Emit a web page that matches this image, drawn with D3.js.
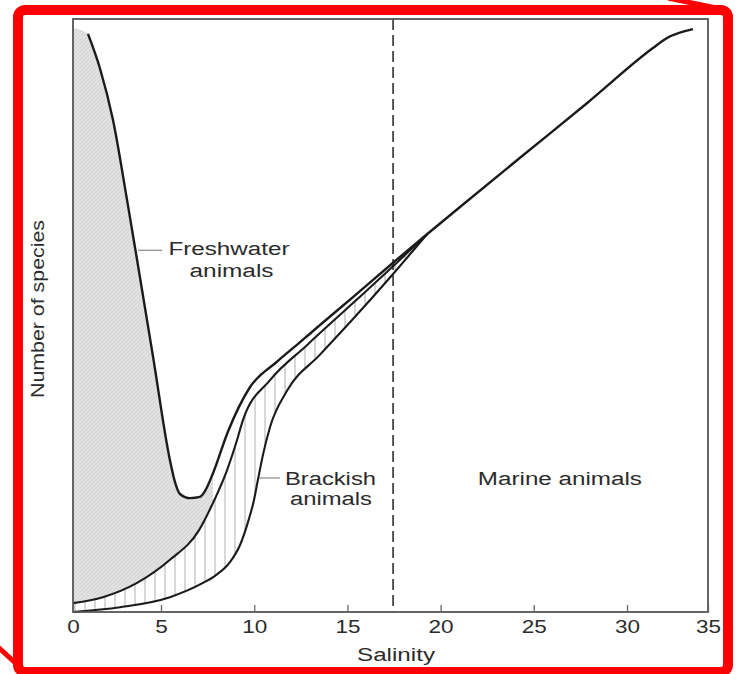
<!DOCTYPE html>
<html>
<head>
<meta charset="utf-8">
<script src="https://cdn.jsdelivr.net/npm/d3@7"></script>
<style>
body { margin: 0; background: #fff; }
text { font-family: "Liberation Sans", Arial, sans-serif; fill: #2b2b2b; }
</style>
</head>
<body>
<div class="salinity-chart"></div>
<script>
// x = salinity, y = number of species (relative, 0-100)
const salinityTicks = [0, 5, 10, 15, 20, 25, 30, 35];

// freshwater curve, carries on as the marine curve past ~20
const freshX = [0.85, 1.53, 2.27, 3.07, 3.64, 4.55, 5.48, 5.75, 6.02, 6.56, 7.09, 7.36, 7.79, 8.59, 9.77, 11.22, 12.46, 13.53, 15.3, 17.45, 19.27, 21.04, 24.26, 27.85, 31.6, 32.47, 34.07];
const freshY = [97.5, 91.7, 83.0, 69.5, 59.4, 43.0, 25.6, 21.9, 19.9, 19.2, 19.4, 20.4, 23.4, 30.4, 37.9, 42.2, 45.5, 48.4, 53.1, 58.9, 63.7, 68.3, 76.6, 85.8, 95.1, 96.8, 98.3];
const freshFillTop = [0, 98.5];

// upper edge of the brackish band
const brackTopX = [0, 1.7, 3.64, 5.48, 7.04, 7.79, 8.54, 9.08, 9.4, 10.85, 12.83, 15.3, 17.45, 19.27];
const brackTopY = [1.5, 2.5, 4.9, 8.8, 13.8, 18.4, 23.9, 29.0, 32.4, 39.1, 45.0, 52.1, 58.3, 63.7];

// lower edge of the brackish band
const brackLowX = [0, 2.67, 5.48, 7.25, 7.9, 8.7, 9.24, 9.67, 9.99, 10.2, 10.47, 10.85, 11.76, 13.53, 15.3, 17.45, 19.27];
const brackLowY = [0, 0.8, 2.5, 4.9, 6.1, 8.4, 11.3, 15.2, 18.9, 22.3, 26.5, 31.2, 37.3, 43.4, 49.4, 57.0, 63.7];

const boundarySalinity = 17.45;
const freshShadeEnd = 7.79;

const width = 738;
const height = 674;
const svg = d3.select('.salinity-chart')
    .append('svg')
    .attr('width', width)
    .attr('height', height);

const x = d3.scaleLinear().domain([0, 5, 30, 35]).range([73, 161, 627, 708]);
const y = d3.scaleLinear().domain([0, 100]).range([612, 19]);

const zip = (xs, ys) => xs.map((v, i) => [v, ys[i]]);
const fresh = zip(freshX, freshY);
const brackTop = zip(brackTopX, brackTopY);
const brackLow = zip(brackLowX, brackLowY);

const curve = d3.curveMonotoneX;
const line = d3.line().x(d => x(d[0])).y(d => y(d[1])).curve(curve);
const areaBelow = d3.area().x(d => x(d[0])).y0(y(0)).y1(d => y(d[1])).curve(curve);
const areaAbove = d3.area().x(d => x(d[0])).y0(y(100)).y1(d => y(d[1])).curve(curve);

const defs = svg.append('defs');

let dots = defs.append('pattern')
    .attr('id', 'fresh-hatch')
    .attr('patternUnits', 'userSpaceOnUse')
    .attr('width', 4)
    .attr('height', 4);
dots.append('rect').attr('width', 4).attr('height', 4).attr('fill', '#e4e4e4');
dots.append('path').attr('d', 'M0,4 L4,0').attr('stroke', '#c8c8c8').attr('stroke-width', 0.7);
dots.append('path').attr('d', 'M0,0 L4,4').attr('stroke', '#d4d4d4').attr('stroke-width', 0.5);

let vlines = defs.append('pattern')
    .attr('id', 'brack-hatch')
    .attr('patternUnits', 'userSpaceOnUse')
    .attr('width', 10)
    .attr('height', 10);
vlines.append('rect').attr('width', 10).attr('height', 10).attr('fill', '#fff');
vlines.append('path').attr('d', 'M5,0 V10').attr('stroke', '#9c9c9c').attr('stroke-width', 0.8);

defs.append('clipPath').attr('id', 'above-brack')
    .append('path')
    .attr('d', areaAbove(brackTop.filter(d => d[0] <= freshShadeEnd)));

defs.append('clipPath').attr('id', 'above-low')
    .append('path')
    .attr('d', areaAbove(brackLow));

// shaded areas
svg.append('path')
    .attr('d', areaBelow([freshFillTop].concat(fresh)))
    .attr('fill', 'url(#fresh-hatch)')
    .attr('clip-path', 'url(#above-brack)');

svg.append('path')
    .attr('d', areaBelow(brackTop))
    .attr('fill', 'url(#brack-hatch)')
    .attr('clip-path', 'url(#above-low)');

// boundary between brackish and marine
svg.append('line')
    .attr('x1', x(boundarySalinity))
    .attr('x2', x(boundarySalinity))
    .attr('y1', y(100))
    .attr('y2', y(0))
    .attr('stroke', '#333')
    .attr('stroke-width', 1.6)
    .attr('stroke-dasharray', '11,5');

// curves
svg.append('path').attr('d', line(brackLow))
    .attr('fill', 'none').attr('stroke', '#1b1b1b').attr('stroke-width', 2.1);
svg.append('path').attr('d', line(brackTop))
    .attr('fill', 'none').attr('stroke', '#1b1b1b').attr('stroke-width', 2.1);
svg.append('path').attr('d', line(fresh))
    .attr('fill', 'none').attr('stroke', '#1b1b1b').attr('stroke-width', 2.4);

// frame and axis
svg.append('rect')
    .attr('x', x(0))
    .attr('y', y(100))
    .attr('width', x(35) - x(0))
    .attr('height', y(0) - y(100))
    .attr('fill', 'none')
    .attr('stroke', '#555')
    .attr('stroke-width', 1.8);

let xAxis = svg.append('g')
    .attr('transform', `translate(0,${y(0)})`)
    .call(d3.axisBottom(x).tickValues(salinityTicks).tickSize(-7).tickPadding(8));
xAxis.select('.domain').remove();
xAxis.selectAll('line').attr('stroke', '#666').attr('stroke-width', 1.3);
xAxis.selectAll('text')
    .attr('font-size', 18)
    .attr('font-family', '"Liberation Sans", Arial, sans-serif')
    .attr('fill', '#333')
    .attr('transform', 'scale(1.25,1)');

// labels
function label(txt, sx, sy, len) {
    svg.append('text')
        .attr('x', x(sx))
        .attr('y', y(sy))
        .attr('font-size', 18)
        .attr('textLength', len)
        .attr('lengthAdjust', 'spacingAndGlyphs')
        .text(txt);
}
label('Freshwater', 5.4, 60.2, 121);
label('animals', 6.53, 56.5, 84);
label('Brackish', 11.65, 21.4, 91);
label('animals', 11.92, 18.0, 82);
label('Marine animals', 22.0, 21.4, 164);

// leader lines
svg.append('line')
    .attr('x1', x(3.7)).attr('x2', x(5.06))
    .attr('y1', y(61)).attr('y2', y(61))
    .attr('stroke', '#888').attr('stroke-width', 1.2);
svg.append('line')
    .attr('x1', x(10.26)).attr('x2', x(11.38))
    .attr('y1', y(22.6)).attr('y2', y(22.6))
    .attr('stroke', '#888').attr('stroke-width', 1.2);

svg.append('text')
    .attr('x', 396)
    .attr('y', 661)
    .attr('text-anchor', 'middle')
    .attr('font-size', 18)
    .attr('textLength', 78)
    .attr('lengthAdjust', 'spacingAndGlyphs')
    .text('Salinity');

svg.append('text')
    .attr('transform', 'translate(44,309) rotate(-90)')
    .attr('text-anchor', 'middle')
    .attr('font-size', 18)
    .attr('textLength', 178)
    .attr('lengthAdjust', 'spacingAndGlyphs')
    .text('Number of species');

// red frame drawn around the figure
svg.append('rect')
    .attr('x', 18).attr('y', 10)
    .attr('width', 710).attr('height', 662)
    .attr('rx', 7)
    .attr('fill', 'none')
    .attr('stroke', '#ff0000')
    .attr('stroke-width', 10);
svg.append('line')
    .attr('x1', 668).attr('y1', -2).attr('x2', 726).attr('y2', 10)
    .attr('stroke', '#ff0000').attr('stroke-width', 5);
svg.append('line')
    .attr('x1', -2).attr('y1', 647).attr('x2', 22).attr('y2', 669)
    .attr('stroke', '#ff0000').attr('stroke-width', 5);
</script>
</body>
</html>
